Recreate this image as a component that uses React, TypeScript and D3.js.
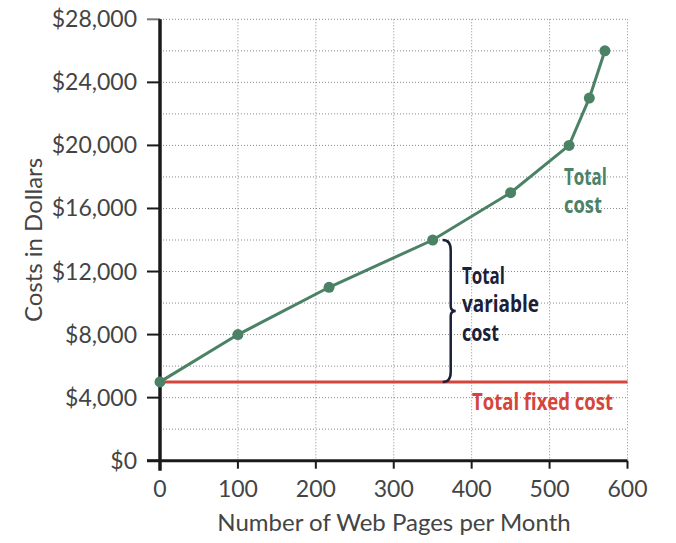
import { useEffect, useRef } from 'react';
import * as d3 from 'd3';

// Total cost curve (pages per month -> dollars)
const pages = [0, 100, 217, 350, 450, 525, 551, 571];
const totalCost = [5000, 8000, 11000, 14000, 17000, 20000, 23000, 26000];
const fixedCost = 5000;

const xTicks = [0, 100, 200, 300, 400, 500, 600];
const yTicks = [0, 4000, 8000, 12000, 16000, 20000, 24000, 28000];
const yGrid = d3.range(2000, 28001, 2000);

const W = 676;
const H = 543;

export default function App() {
  const svgRef = useRef<SVGSVGElement>(null);

  useEffect(() => {
    if (!svgRef.current) return;
    const svg = d3.select(svgRef.current);
    svg.selectAll('*').remove();

    const x = d3.scaleLinear().domain([0, 600]).range([160, 627.5]);
    const y = d3.scaleLinear().domain([0, 28000]).range([460.7, 19.3]);

    const tickFont = 'Lato, "Open Sans", sans-serif';
    const labelFont = '"Open Sans", "DejaVu Sans", sans-serif';

    // grid
    const grid = svg.append('g');
    grid.selectAll('.hg')
      .data(yGrid)
      .enter()
      .append('line')
      .attr('x1', x(0))
      .attr('x2', x(600))
      .attr('y1', (d) => y(d))
      .attr('y2', (d) => y(d))
      .attr('stroke', '#8a8a8a')
      .attr('stroke-width', 1)
      .attr('stroke-dasharray', '1,2');
    grid.selectAll('.vg')
      .data(xTicks.slice(1))
      .enter()
      .append('line')
      .attr('x1', (d) => x(d))
      .attr('x2', (d) => x(d))
      .attr('y1', y(28000))
      .attr('y2', y(0))
      .attr('stroke', '#8a8a8a')
      .attr('stroke-width', 1)
      .attr('stroke-dasharray', '1,2');

    // y ticks
    svg.selectAll('.yt')
      .data(yTicks)
      .enter()
      .append('line')
      .attr('x1', 147)
      .attr('x2', x(0))
      .attr('y1', (d) => y(d))
      .attr('y2', (d) => y(d))
      .attr('stroke', (d) => (d === 28000 ? '#777' : '#1a1a1a'))
      .attr('stroke-width', 2);
    svg.selectAll('.yl')
      .data(yTicks)
      .enter()
      .append('text')
      .attr('x', 137)
      .attr('y', (d) => y(d) + 8)
      .attr('text-anchor', 'end')
      .attr('font-family', tickFont)
      .attr('font-weight', 400)
      .attr('font-size', 23)
      .attr('fill', '#444')
      .text((d) => d3.format('$,')(d));

    // x ticks
    svg.selectAll('.xt')
      .data(xTicks.slice(1))
      .enter()
      .append('line')
      .attr('x1', (d) => x(d))
      .attr('x2', (d) => x(d))
      .attr('y1', y(0))
      .attr('y2', y(0) + 8)
      .attr('stroke', '#1a1a1a')
      .attr('stroke-width', 2);
    svg.selectAll('.xl')
      .data(xTicks)
      .enter()
      .append('text')
      .attr('x', (d) => x(d))
      .attr('y', 497)
      .attr('text-anchor', 'middle')
      .attr('font-family', tickFont)
      .attr('font-weight', 400)
      .attr('font-size', 23)
      .attr('fill', '#444')
      .text((d) => d);

    // axes
    svg.append('line')
      .attr('x1', 147)
      .attr('x2', x(600))
      .attr('y1', y(0))
      .attr('y2', y(0))
      .attr('stroke', '#1a1a1a')
      .attr('stroke-width', 3);
    svg.append('line')
      .attr('x1', x(0))
      .attr('x2', x(0))
      .attr('y1', y(28000))
      .attr('y2', y(0) + 10)
      .attr('stroke', '#1a1a1a')
      .attr('stroke-width', 3.5);

    // axis titles
    svg.append('text')
      .attr('transform', `translate(42,${(y(0) + y(28000)) / 2}) rotate(-90)`)
      .attr('text-anchor', 'middle')
      .attr('font-family', tickFont)
      .attr('font-weight', 400)
      .attr('font-size', 24)
      .attr('fill', '#444')
      .text('Costs in Dollars');
    svg.append('text')
      .attr('x', 394)
      .attr('y', 531)
      .attr('text-anchor', 'middle')
      .attr('font-family', tickFont)
      .attr('font-weight', 400)
      .attr('font-size', 24)
      .attr('fill', '#444')
      .text('Number of Web Pages per Month');

    // fixed cost line
    svg.append('line')
      .attr('x1', x(0))
      .attr('x2', x(600))
      .attr('y1', y(fixedCost))
      .attr('y2', y(fixedCost))
      .attr('stroke', '#d4453b')
      .attr('stroke-width', 3);

    // total cost line
    const pts = pages.map((p, i) => [p, totalCost[i]] as [number, number]);
    const line = d3.line<[number, number]>()
      .x((d) => x(d[0]))
      .y((d) => y(d[1]));
    svg.append('path')
      .attr('d', line(pts) || '')
      .attr('fill', 'none')
      .attr('stroke', '#4b8266')
      .attr('stroke-width', 3);
    svg.selectAll('.pt')
      .data(pts)
      .enter()
      .append('circle')
      .attr('cx', (d) => x(d[0]))
      .attr('cy', (d) => y(d[1]))
      .attr('r', 5.5)
      .attr('fill', '#4b8266');

    // brace for variable cost
    const bx = x(350) + 18;
    const top = y(totalCost[3]);
    const bot = y(fixedCost);
    const mid = (top + bot) / 2;
    const r = 5;
    const braceD = [
      `M${bx - 8},${top}`,
      `Q${bx},${top} ${bx},${top + r * 2}`,
      `L${bx},${mid - r}`,
      `Q${bx},${mid} ${bx + 5},${mid}`,
      `Q${bx},${mid} ${bx},${mid + r}`,
      `L${bx},${bot - r * 2}`,
      `Q${bx},${bot} ${bx - 8},${bot}`,
    ].join(' ');
    svg.append('path')
      .attr('d', braceD)
      .attr('fill', 'none')
      .attr('stroke', '#1b2038')
      .attr('stroke-width', 2.5);

    // multi-line labels: one text element, one tspan per line
    const addLabel = (lines: string[], widths: number[], x0: number, baselines: number[], color: string) => {
      const t = svg.append('text')
        .attr('font-family', labelFont)
        .attr('font-weight', 'bold')
        .attr('font-size', 24)
        .attr('fill', color);
      lines.forEach((s, i) => {
        t.append('tspan')
          .attr('x', x0)
          .attr('y', baselines[i])
          .attr('textLength', widths[i])
          .attr('lengthAdjust', 'spacingAndGlyphs')
          .text(s);
      });
    };

    addLabel(['Total', 'variable', 'cost'], [43, 77, 37], 462, [284, 312, 341], '#1b2038');
    addLabel(['Total', 'cost'], [43, 38], 564, [185, 213], '#4b8266');
    addLabel(['Total fixed cost'], [141], 472, [410], '#d4453b');
  }, []);

  return (
    <svg
      ref={svgRef}
      width={W}
      height={H}
      style={{ position: 'absolute', left: 0, top: 0, background: '#fff' }}
    />
  );
}
